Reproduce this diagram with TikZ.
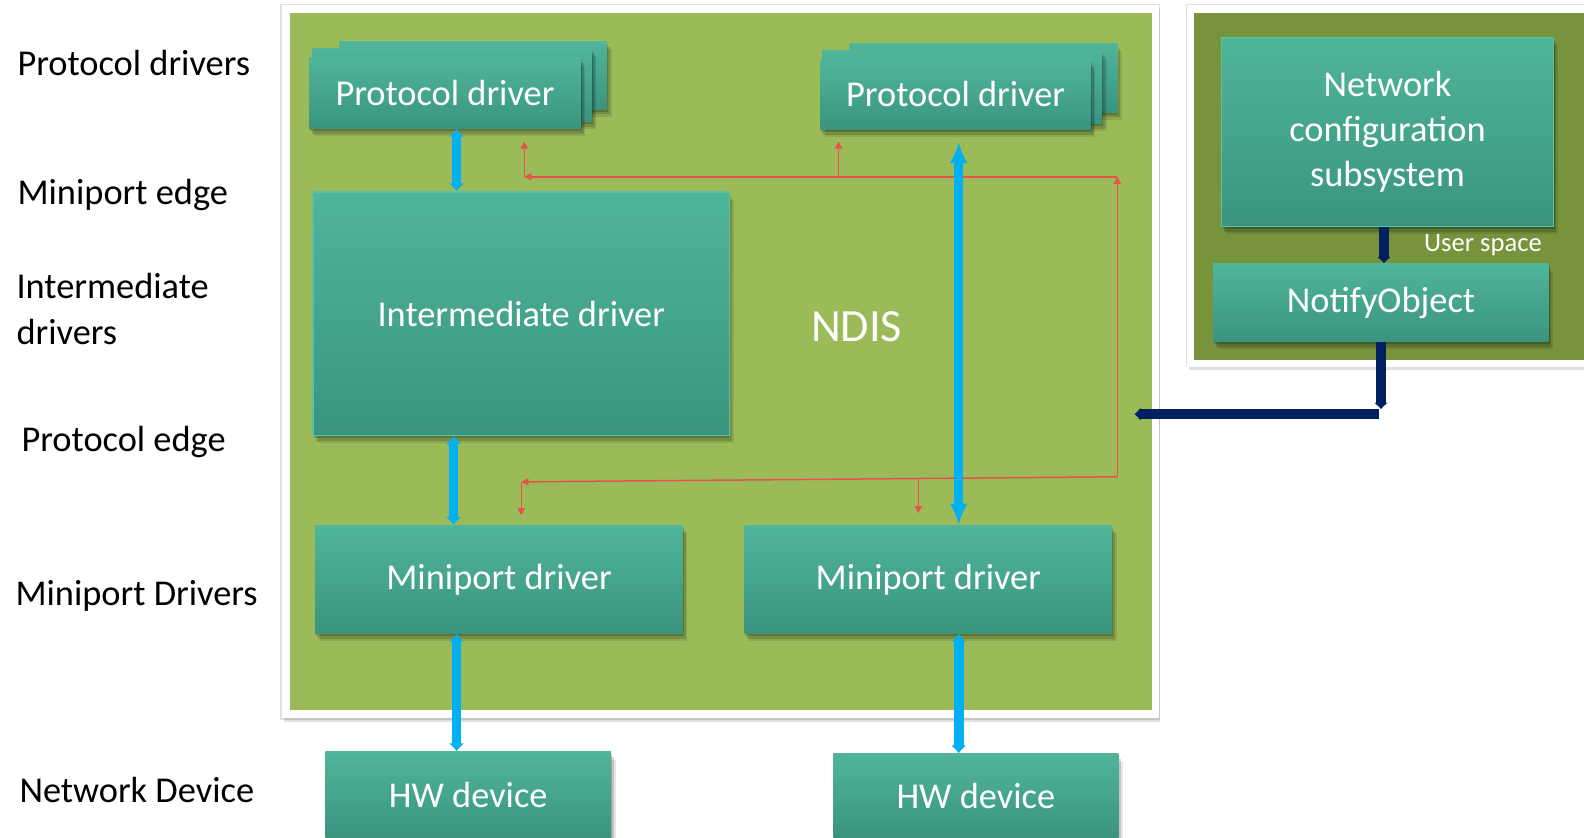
\documentclass[tikz,border=0pt]{standalone}
\usepackage{fontspec}
\setmainfont{Carlito}
\usetikzlibrary{arrows.meta,shadows}

\definecolor{ndisgreen}{HTML}{9BBB59}
\definecolor{usergreen}{HTML}{77933C}
\definecolor{boxtop}{HTML}{50B59A}
\definecolor{boxbot}{HTML}{3A947F}
\definecolor{boxline}{HTML}{55C4A5}
\definecolor{busblue}{HTML}{00B0F0}
\definecolor{ctlnavy}{HTML}{002060}
\definecolor{sigred}{HTML}{E5534B}

\begin{document}
\begin{tikzpicture}[
	x=0.02cm, y=-0.02cm,
	font=\fontsize{20.5}{25.5}\selectfont,
	% layered shadows give a soft edge
	soft/.style={
		drop shadow={shadow xshift=0.5pt, shadow yshift=-1.5pt, opacity=0.18, fill=black},
		drop shadow={shadow xshift=1.5pt, shadow yshift=-3pt, opacity=0.15, fill=black},
		drop shadow={shadow xshift=2.5pt, shadow yshift=-4.5pt, opacity=0.1, fill=black}},
	drv/.style={rectangle, top color=boxtop, bottom color=boxbot, text=white, inner sep=0pt, align=center, soft},
	edged/.style={draw=boxline, line width=0.8pt},
	lbl/.style={anchor=west, inner sep=0pt, align=left},
	frame/.style={white,
		drop shadow={shadow xshift=0pt, shadow yshift=0pt, shadow scale=1.004, opacity=0.12, fill=black},
		drop shadow={shadow xshift=1pt, shadow yshift=-2pt, opacity=0.12, fill=black}},
	bus/.style={{Latex[length=4.5pt,width=9pt]}-{Latex[length=4.5pt,width=9pt]}, line width=5.5pt, busblue},
	bigbus/.style={{Latex[length=12pt,width=10pt]}-{Latex[length=12pt,width=10pt]}, line width=5pt, busblue},
	ctl/.style={-{Latex[length=3.5pt,width=8pt]}, line width=5.5pt, ctlnavy},
	sig/.style={-{Triangle[length=4pt,width=4pt]}, line width=0.85pt, sigred},
]
\useasboundingbox (0,0) rectangle (1568,829);

% NDIS area and user space area
\fill[frame] (279,5) rectangle (1147,711);
\fill[ndisgreen] (287,13) rectangle (1140,703);
\fill[frame] (1175,5) rectangle (1590,363);
\fill[usergreen] (1182,13) rectangle (1590,356);

% row labels
\node[lbl] (l1) at (17,62) {Protocol drivers};
\node[lbl] (l2) at (17,193) {Miniport edge};
\node[lbl] (l3) at (16,306) {Intermediate\\drivers};
\node[lbl] (l4) at (21,438) {Protocol edge};
\node[lbl] (l5) at (15,590) {Miniport Drivers};
\node[lbl] (l6) at (19,782) {Network Device};

% protocol drivers (stacked)
\node[drv, minimum width=5.30cm, minimum height=1.34cm] (pd1c) at (468.5,74.5) {};
\node[drv, minimum width=5.54cm, minimum height=1.44cm] (pd1b) at (447.5,84) {};
\node[drv, minimum width=5.38cm, minimum height=1.40cm] (pd1) at (440.5,92) {Protocol driver};
\node[drv, minimum width=5.30cm, minimum height=1.36cm] (pd2c) at (973.5,77) {};
\node[drv, minimum width=5.54cm, minimum height=1.44cm] (pd2b) at (952.5,86) {};
\node[drv, minimum width=5.36cm, minimum height=1.38cm] (pd2) at (946,93.5) {Protocol driver};

% intermediate, miniports, devices
\node[drv, edged, minimum width=8.24cm, minimum height=4.82cm] (inter) at (516,310.5) {Intermediate driver};
\node[drv, minimum width=7.28cm, minimum height=2.14cm] (mp1) at (494,573.5) {Miniport driver};
\node[drv, minimum width=7.28cm, minimum height=2.14cm] (mp2) at (919,573.5) {Miniport driver};
\node[drv, minimum width=5.66cm, minimum height=1.70cm] (hw1) at (463.5,786.5) {HW device};
\node[drv, minimum width=5.64cm, minimum height=1.66cm] (hw2) at (966,787.5) {HW device};
\node[text=white, font=\fontsize{26}{30}\selectfont] (ndis) at (848,323) {NDIS};

% user space
\node[drv, edged, minimum width=6.58cm, minimum height=3.74cm] (netcfg) at (1373.5,130.5) {Network\\configuration\\subsystem};
\node[drv, minimum width=6.64cm, minimum height=1.54cm] (notify) at (1367,299.5) {NotifyObject};
\node[text=white, font=\fontsize{15}{18}\selectfont] (uspace) at (1468,243) {User space};

% notification paths
\coordinate (rt) at (1106,175);
\coordinate (rb) at (1106,472);
\coordinate (lt) at (519,175);
\coordinate (lb) at (516,477);
\coordinate (tap1) at (830,175);
\coordinate (tap2) at (909,475);
\draw[sig] (rb) -- (rt);
\draw[sig] (rt) -- (lt);
\draw[sig] (lt) -- ++(0,-35);
\draw[sig] (tap1) -- ++(0,-35);
\draw[sig] (rb) -- (lb);
\draw[sig] (lb) -- ++(0,33);
\draw[sig] (tap2) -- ++(0,33);

% data paths
\coordinate (xa) at (452,0);
\coordinate (xb) at (449,0);
\coordinate (xc) at (949,0);
\draw[bus] (pd1.south -| xa) -- (inter.north -| xa);
\draw[bus] (inter.south -| xb) -- (mp1.north -| xb);
\draw[bigbus, shorten <=0.24cm] (pd2.south -| xc) -- (mp2.north -| xc);
\draw[bus] (mp1.south -| xa) -- (hw1.north -| xa);
\draw[bus] (mp2.south -| xc) -- (hw2.north -| xc);

% control from user space
\coordinate (xn) at (1370,0);
\coordinate (n1) at (1367,405);
\coordinate (n2) at (1365,410);
\coordinate (n3) at (1123,410);
\draw[ctl] (netcfg.south -| xn) -- (notify.north -| xn);
\draw[ctl] (notify.south -| n1) -- (n1);
\draw[ctl] (n2) -- (n3);
\end{tikzpicture}
\end{document}
